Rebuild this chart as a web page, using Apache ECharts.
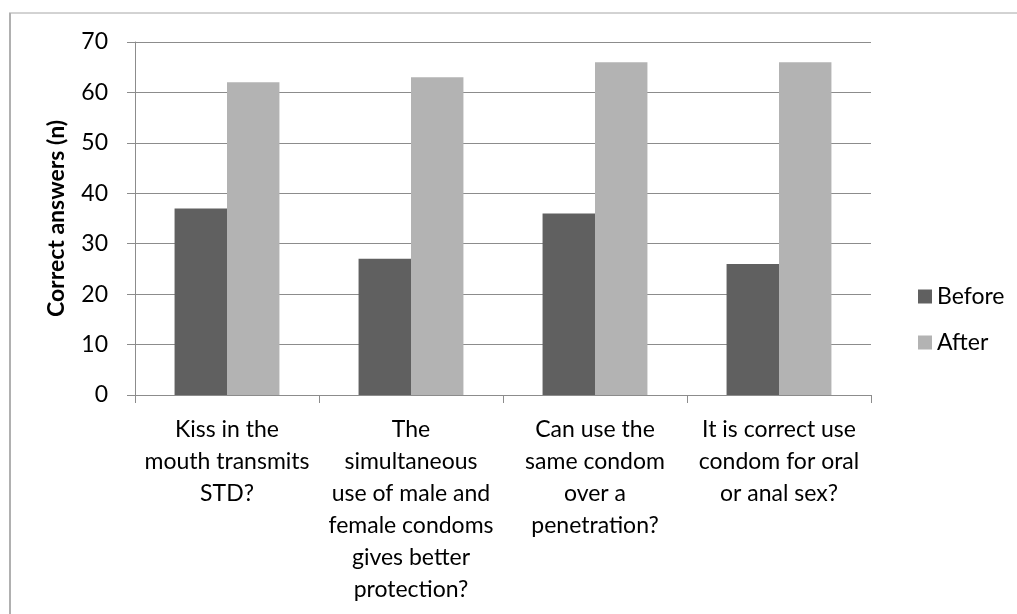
<!DOCTYPE html>
<html>
<head>
<meta charset="utf-8">
<title>Correct answers before and after</title>
<script src="https://cdn.jsdelivr.net/npm/echarts@6/dist/echarts.min.js"></script>
<style>
  html, body { margin: 0; padding: 0; background: #ffffff; }
  #chart { width: 1017px; height: 614px; }
</style>
</head>
<body>
<div id="chart"></div>
<script>
// Questions (line breaks as they wrap under each category)
const categories = [
  'Kiss in the\nmouth transmits\nSTD?',
  'The\nsimultaneous\nuse of male and\nfemale condoms\ngives better\nprotection?',
  'Can use the\nsame condom\nover a\npenetration?',
  'It is correct use\ncondom for oral\nor anal sex?'
];
const seriesNames = ['Before', 'After'];
const beforeValues = [37, 27, 36, 26];
const afterValues = [62, 63, 66, 66];
const yTicks = { min: 0, max: 70, interval: 10 };
const yAxisTitle = 'Correct answers (n)';

const FONT = 'Lato, "Open Sans", sans-serif';
const GRID_COLOR = '#8c8c8c';

const chart = echarts.init(document.getElementById('chart'), null, { renderer: 'canvas' });

chart.setOption({
  animation: false,
  backgroundColor: '#ffffff',
  textStyle: { fontFamily: FONT, color: '#000000' },
  graphic: [
    // frame along the top and left edges
    { type: 'line', shape: { x1: 9, y1: 13, x2: 1017, y2: 13 }, style: { stroke: '#a6a6a6', lineWidth: 1 } },
    { type: 'line', shape: { x1: 10, y1: 13, x2: 10, y2: 614 }, style: { stroke: '#b0b0b0', lineWidth: 2 } }
  ],
  grid: { left: 135, right: 146, top: 42, bottom: 219, containLabel: false },
  legend: {
    orient: 'vertical',
    left: 913,
    top: 280,
    itemWidth: 14,
    itemHeight: 14,
    itemGap: 23,
    itemTextGap: 7,
    icon: 'rect',
    textStyle: { fontFamily: FONT, fontSize: 23, color: '#000000' },
    data: seriesNames
  },
  xAxis: {
    type: 'category',
    data: categories,
    axisLine: { show: true, lineStyle: { color: GRID_COLOR, width: 1 } },
    axisTick: { show: true, length: 8, alignWithLabel: false, lineStyle: { color: GRID_COLOR } },
    axisLabel: {
      interval: 0,
      margin: 19,
      fontFamily: FONT,
      fontSize: 23,
      lineHeight: 32,
      color: '#000000',
      align: 'center'
    },
    splitLine: { show: false }
  },
  yAxis: {
    type: 'value',
    min: yTicks.min,
    max: yTicks.max,
    interval: yTicks.interval,
    name: yAxisTitle,
    nameLocation: 'middle',
    nameGap: 67,
    nameTextStyle: { fontFamily: FONT, fontSize: 23, fontWeight: 'bold', color: '#000000' },
    axisLine: { show: true, lineStyle: { color: GRID_COLOR, width: 1 } },
    axisTick: { show: true, length: 8, lineStyle: { color: GRID_COLOR } },
    axisLabel: { margin: 27, fontFamily: FONT, fontSize: 23, color: '#000000' },
    splitLine: { show: true, lineStyle: { color: GRID_COLOR, width: 1 } }
  },
  series: [
    {
      name: seriesNames[0],
      type: 'bar',
      data: beforeValues,
      barGap: '0%',
      barCategoryGap: '43%',
      itemStyle: { color: '#606060' }
    },
    {
      name: seriesNames[1],
      type: 'bar',
      data: afterValues,
      barGap: '0%',
      barCategoryGap: '43%',
      itemStyle: { color: '#b3b3b3' }
    }
  ]
});
</script>
</body>
</html>
